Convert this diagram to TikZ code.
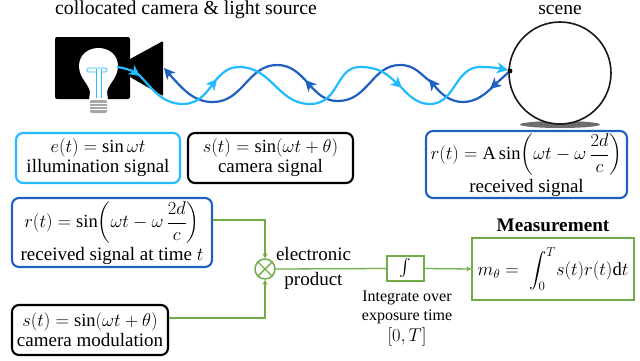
\documentclass[tikz,border=0pt]{standalone}
\usepackage{fix-cm}
\usepackage{amsmath}
\usepackage{fontspec}
\setmainfont{Liberation Serif}
\usetikzlibrary{arrows.meta}
\definecolor{lblue}{HTML}{22BBFF}
\definecolor{dblue}{HTML}{1F5FBF}
\definecolor{grn}{HTML}{70AD47}
\newcommand{\fs}[1]{\fontsize{#1}{#1}\selectfont}
\newcommand{\mm}[1]{{\fontsize{18.5}{19}\selectfont$#1$}}
\tikzset{
 x=1pt,y=-1pt,
 sigbox/.style={draw=#1,line width=2.1pt,rounded corners=7pt,inner sep=0pt,align=center,font=\fs{19},anchor=center},
 grnbox/.style={draw=grn,line width=1.5pt,inner sep=0pt,anchor=center},
 lab/.style={inner sep=0pt,align=center,anchor=center},
 wire/.style={draw=grn,line width=1.3pt},
 wirearr/.style={wire,-{Stealth[length=5pt,width=5pt]}},
 lwave/.style={draw=lblue,line width=2.2pt,-{Stealth[length=11pt,width=11pt,inset=3pt]}},
 dwave/.style={draw=dblue,line width=2.2pt,-{Stealth[length=11pt,width=11pt,inset=3pt]}},
}
\begin{document}
\begin{tikzpicture}
\useasboundingbox (0,0) rectangle (640,360);
% titles
\node[lab,font=\fs{19.8}] (t1) at (186,9.5) {collocated camera \& light source};
\node[lab,font=\fs{19.5}] (t2) at (560,9.5) {scene};
% camera
\fill[black,rounded corners=2pt] (55,37) rectangle (130,99);
\fill[black,rounded corners=1pt] (130,59) -- (163,41) -- (163,96) -- (130,77) -- cycle;
% bulb
\fill[white] (89,100) -- (90,92) .. controls (89,84) and (79,78) .. (79,66) .. controls (79,55) and (88,48) .. (98.5,48) .. controls (109,48) and (118,55) .. (118,66) .. controls (118,78) and (108,84) .. (107,92) -- (108,100) -- cycle;
\fill[gray!70,rounded corners=2pt] (90,100) rectangle (107,113);
\foreach \yy in {103,106,109} \draw[white,line width=.6pt] (90,\yy) -- (107,\yy);
\draw[lblue,line width=.7pt] (96,98) -- (96,69) (101,98) -- (101,69);
\draw[lblue,line width=.7pt] (96,72) -- (89,72) .. controls (86,72) and (86,68) .. (89,68) -- (105,68) .. controls (108,68) and (108,72) .. (105,72) -- (101,72);
% scene
\fill[gray!85!black] (560,124.5) ellipse (40 and 3.5);
\fill[white] (560,73) circle (51);
\draw[black!90,line width=1.6pt] (560,73) circle (51);
% dark wave
\draw[dwave] (510,71) -- (490,89);
\draw[dwave] (497,82) .. controls (486,95) and (475,102) .. (463,102) .. controls (450,102) and (441,94) .. (429,79);
\draw[dwave] (431,82) .. controls (420,74) and (415,65) .. (400,65) .. controls (372,65) and (368,101) .. (338,101) .. controls (325,101) and (318,94) .. (305,80);
\draw[dwave] (308,83) .. controls (298,72) and (290,65) .. (277,65) .. controls (248,65) and (243,102) .. (213,102) .. controls (195,102) and (185,92) .. (164,68);
% light wave
\draw[lwave] (117,67) .. controls (125,68) and (133,71) .. (140,76);
\draw[lwave] (138,74) .. controls (150,85) and (160,104) .. (183,104) .. controls (200,104) and (208,90) .. (217,79);
\draw[lwave] (215,81) .. controls (222,73) and (228,67) .. (239,67) .. controls (272,67) and (278,104) .. (310,104) .. controls (340,104) and (335,67) .. (360,67) .. controls (380,67) and (388,75) .. (402,88);
\draw[lwave] (401,87) .. controls (410,97) and (418,104) .. (430,104) .. controls (455,104) and (455,67) .. (480,67) .. controls (490,67) and (498,68) .. (508,70);
\fill[black] (510,71) circle (2.4);
% signal boxes
\node[sigbox=lblue,minimum width=164pt,minimum height=50pt] (e) at (98,158) {\mm{e(t)=\sin\omega t}\\[1pt]illumination signal};
\node[sigbox=black,minimum width=165pt,minimum height=50pt] (s) at (270.5,158) {\mm{s(t)=\sin(\omega t+\theta)}\\[1pt]camera signal};
\node[sigbox=dblue,minimum width=201pt,minimum height=67pt] (r) at (526.5,164.5) {\mm{r(t)=\mathrm{A}\sin\biggl(\omega t-\omega\,\dfrac{2d}{c}\biggr)}\\[1pt]received signal};
\node[sigbox=dblue,minimum width=200pt,minimum height=69pt] (r2) at (112,232.5) {\mm{r(t)=\sin\biggl(\omega t-\omega\,\dfrac{2d}{c}\biggr)}\\[1pt]received signal at time \mm{t}};
\node[sigbox=black,minimum width=156pt,minimum height=50pt] (s2) at (90,330) {\mm{s(t)=\sin(\omega t+\theta)}\\[1pt]camera modulation};
% product
\node[draw=grn,line width=1.5pt,circle,minimum size=20pt,inner sep=0pt] (m) at (265,269) {};
\draw[grn,line width=1.4pt] (m.north west) -- (m.south east) (m.north east) -- (m.south west);
\node[grnbox,minimum width=37pt,minimum height=25pt] (int) at (405.5,268.5) {\mm{\textstyle\int}};
\node[grnbox,minimum width=162pt,minimum height=62pt] (meas) at (553,269) {\mm{m_\theta=\;\displaystyle\int_0^T\! s(t)r(t)\mathrm{d}t}};
\draw[wirearr] (r2.east |- 0,220) -| (m.north);
\draw[wirearr] (s2.east |- 0,318) -| (m.south);
\draw[wire] (m.east) -- (int.west);
\draw[wirearr] (int.east) -- (meas.west);
% labels
\node[lab,font=\fs{19}] (ep) at (313.5,268) {electronic\\[6pt]product};
\node[lab,font=\bfseries\fs{19.2}] (mt) at (553,225) {Measurement};
\node[lab,font=\fs{16}] (i1) at (407,298) {Integrate over};
\node[lab,font=\fs{16}] (i2) at (407,317) {exposure time};
\node[lab,font=\fs{16}] (i3) at (407,337) {\mm{[0,T]}};
\end{tikzpicture}
\end{document}
